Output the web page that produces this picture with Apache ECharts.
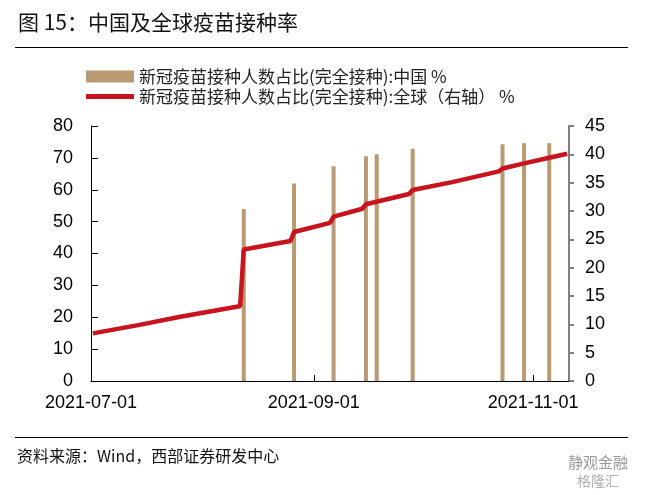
<!DOCTYPE html>
<html>
<head>
<meta charset="utf-8">
<script src="https://cdn.jsdelivr.net/npm/echarts@6/dist/echarts.min.js"></script>
<style>
html,body{margin:0;padding:0;background:#fff;}
#chart{width:647px;height:495px;}
</style>
</head>
<body>
<div id="chart"></div>
<script>
// China: share fully vaccinated (%), left axis
const chinaDates = ['2021-08-12','2021-08-26','2021-09-06','2021-09-15','2021-09-18','2021-09-28','2021-10-23','2021-10-29','2021-11-05'];
const chinaValues = [54.0, 62.0, 67.4, 70.5, 71.1, 72.9, 74.3, 74.6, 74.6];

// Global: share fully vaccinated (%), right axis
const globalDates = ['2021-07-01','2021-07-14','2021-07-25','2021-08-10','2021-08-11','2021-08-12','2021-08-25','2021-08-26','2021-09-05','2021-09-06','2021-09-14','2021-09-15','2021-09-27','2021-09-28','2021-10-09','2021-10-22','2021-10-23','2021-10-29','2021-11-05','2021-11-10'];
const globalValues = [8.4, 9.9, 11.3, 13.1, 13.2, 23.2, 24.7, 26.3, 27.9, 29.0, 30.4, 31.2, 33.0, 33.7, 35.1, 37.0, 37.5, 38.4, 39.4, 40.1];

const xTickLabels = ['2021-07-01','2021-09-01','2021-11-01'];
const xRange = ['2021-07-01','2021-11-11'];
const leftTicks = {min: 0, max: 80, interval: 10};
const rightTicks = {min: 0, max: 45, interval: 5};

const nameChina = '新冠疫苗接种人数占比(完全接种):中国 %';
const nameGlobal = '新冠疫苗接种人数占比(完全接种):全球（右轴） %';

function ts(s, h) {
  const p = s.split('-').map(Number);
  return Date.UTC(p[0], p[1] - 1, p[2], h || 0);
}
function fmt(v) {
  const d = new Date(v);
  const pad = n => (n < 10 ? '0' : '') + n;
  return d.getUTCFullYear() + '-' + pad(d.getUTCMonth() + 1) + '-' + pad(d.getUTCDate());
}

const chart = echarts.init(document.getElementById('chart'), null, {renderer: 'canvas'});
const numFont = 'Arial, "Liberation Sans", sans-serif';
const cjkFont = '"Noto Sans CJK SC", sans-serif';

chart.setOption({
  animation: false,
  backgroundColor: '#fff',
  graphic: [
    {type: 'text', left: 18, top: 12, style: {text: '图 15：中国及全球疫苗接种率', font: '21px "Noto Sans CJK SC"', fill: '#111'}},
    {type: 'line', shape: {x1: 15, y1: 47.5, x2: 628, y2: 47.5}, style: {stroke: '#000', lineWidth: 1.2}},
    {type: 'line', shape: {x1: 15, y1: 437.5, x2: 628, y2: 437.5}, style: {stroke: '#000', lineWidth: 1.2}},
    {type: 'text', left: 17, top: 448, style: {text: '资料来源：Wind，西部证券研发中心', font: '16px "Noto Sans CJK SC"', fill: '#111'}},
    {type: 'text', left: 568, top: 455, style: {text: '静观金融', font: '15px "Noto Sans CJK SC"', fill: '#9a9a9a'}},
    {type: 'text', left: 577, top: 474, style: {text: '格隆汇', font: '14px "Noto Sans CJK SC"', fill: '#b0b0b0'}}
  ],
  legend: [
    {
      data: [{name: nameChina, icon: 'rect'}],
      left: 86, top: 68, padding: 0,
      itemWidth: 48, itemHeight: 12, itemGap: 7,
      textStyle: {fontFamily: cjkFont, fontSize: 17, color: '#222'}
    },
    {
      data: [{name: nameGlobal, icon: 'rect'}],
      left: 86, top: 88, padding: 0,
      itemWidth: 48, itemHeight: 5, itemGap: 7,
      textStyle: {fontFamily: cjkFont, fontSize: 17, color: '#222'}
    }
  ],
  grid: {left: 91, right: 78, top: 126, bottom: 114, containLabel: false},
  xAxis: {
    type: 'value',
    min: ts(xRange[0]),
    max: ts(xRange[1]),
    axisLine: {onZero: false, lineStyle: {color: '#000', width: 1}},
    axisTick: {show: true, inside: true, length: 6, lineStyle: {color: '#000'},
      customValues: xTickLabels.slice(1).map(s => ts(s))},
    axisLabel: {
      customValues: xTickLabels.map(s => ts(s)),
      formatter: v => fmt(v),
      fontFamily: numFont, fontSize: 18, color: '#000', margin: 13,
      showMinLabel: true, showMaxLabel: true
    },
    splitLine: {show: false}
  },
  yAxis: [
    {
      type: 'value', min: leftTicks.min, max: leftTicks.max, interval: leftTicks.interval,
      axisLine: {show: true, lineStyle: {color: '#000', width: 1}},
      axisTick: {show: true, inside: true, length: 7, lineStyle: {color: '#000'}},
      axisLabel: {fontFamily: numFont, fontSize: 18, color: '#000', margin: 18},
      splitLine: {show: false}
    },
    {
      type: 'value', position: 'right', min: rightTicks.min, max: rightTicks.max, interval: rightTicks.interval,
      axisLine: {show: true, lineStyle: {color: '#808080', width: 2}},
      axisTick: {show: true, inside: false, length: 5, lineStyle: {color: '#808080', width: 2}},
      axisLabel: {fontFamily: numFont, fontSize: 18, color: '#000', margin: 16},
      splitLine: {show: false}
    }
  ],
  series: [
    {
      name: nameChina, type: 'bar', yAxisIndex: 0, barWidth: 4,
      itemStyle: {color: '#B99A72'},
      data: chinaDates.map((d, i) => [ts(d, 12), chinaValues[i]])
    },
    {
      name: nameGlobal, type: 'line', yAxisIndex: 1, showSymbol: false, symbol: 'none',
      lineStyle: {color: '#C8141E', width: 4.5}, itemStyle: {color: '#C8141E'},
      z: 5,
      data: globalDates.map((d, i) => [ts(d, 12), globalValues[i]])
    }
  ]
});
</script>
</body>
</html>
